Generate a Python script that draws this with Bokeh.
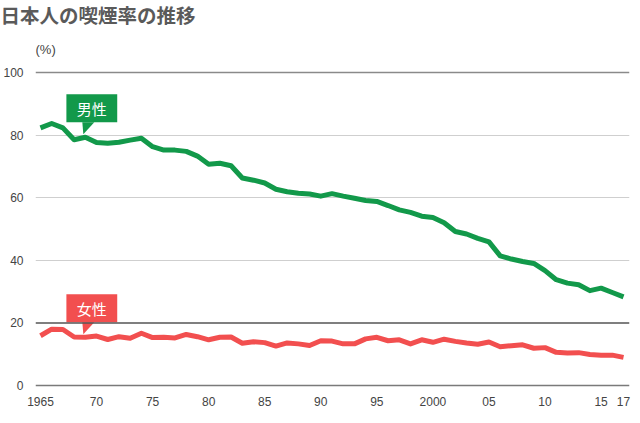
from bokeh.plotting import figure
from bokeh.models import Range1d, FixedTicker, Span, Title
from bokeh.core.properties import value
from bokeh.embed import file_html
from bokeh.resources import INLINE

years = list(range(1965, 2018))
male = [82.3, 83.7, 82.3, 78.5, 79.3, 77.6, 77.4, 77.7, 78.4, 79.0,
        76.3, 75.2, 75.2, 74.8, 73.3, 70.7, 71.0, 70.2, 66.3, 65.6,
        64.7, 62.7, 61.9, 61.4, 61.2, 60.5, 61.3, 60.5, 59.8, 59.1,
        58.8, 57.5, 56.1, 55.3, 54.1, 53.7, 52.0, 49.2, 48.4, 47.0,
        45.9, 41.4, 40.4, 39.6, 39.0, 36.7, 33.8, 32.7, 32.2, 30.3,
        31.1, 29.7, 28.3]
female = [15.9, 18.0, 17.9, 15.5, 15.4, 15.8, 14.7, 15.6, 15.1, 16.7,
          15.3, 15.4, 15.2, 16.3, 15.6, 14.6, 15.4, 15.5, 13.5, 14.0,
          13.7, 12.6, 13.6, 13.3, 12.8, 14.3, 14.2, 13.3, 13.3, 14.9,
          15.4, 14.3, 14.6, 13.3, 14.6, 13.8, 14.8, 14.1, 13.6, 13.2,
          13.9, 12.4, 12.7, 13.0, 11.9, 12.1, 10.6, 10.4, 10.5, 9.9,
          9.7, 9.7, 9.0]
x_ticks = [1965, 1970, 1975, 1980, 1985, 1990, 1995, 2000, 2005, 2010, 2015, 2017]
x_tick_labels = ["1965", "70", "75", "80", "85", "90", "95", "2000", "05", "10", "15", "17"]
y_ticks = [0, 20, 40, 60, 80, 100]
series_names = ["男性", "女性"]
title_text = "日本人の喫煙率の推移"
unit_text = "(%)"

GREEN = "#12994a"
RED = "#f24f4f"

W, H = 640, 423
BL, BR, BT, BB = 33, 11, 25, 33
frame_w = W - BL - BR
frame_h = H - BT - BB

pxx = 11.25          # px per year
pxy = 3.13           # px per percent
x_start = 1965 - 5 / pxx
x_end = x_start + frame_w / pxx
y_start = -5 / pxy
y_end = y_start + frame_h / pxy

p = figure(width=W, height=H, output_backend="svg", toolbar_location=None,
           title=None,
           x_range=Range1d(x_start, x_end), y_range=Range1d(y_start, y_end),
           min_border_left=BL, min_border_right=BR, min_border_top=BT,
           min_border_bottom=BB, outline_line_color=None)
p.background_fill_color = "white"
p.border_fill_color = "white"

# axes
p.xaxis.ticker = FixedTicker(ticks=x_ticks)
p.xaxis.major_label_overrides = {t: l for t, l in zip(x_ticks, x_tick_labels)}
p.yaxis.ticker = FixedTicker(ticks=y_ticks)
for ax in (p.xaxis, p.yaxis):
    ax.axis_line_color = None
    ax.major_tick_line_color = None
    ax.minor_tick_line_color = None
    ax.major_tick_out = 0
    ax.major_tick_in = 0
    ax.minor_tick_out = 0
    ax.minor_tick_in = 0
    ax.major_label_text_font = "Liberation Sans"
    ax.major_label_text_font_size = "12px"
    ax.major_label_text_color = "#444444"
p.xaxis.major_label_standoff = 6
p.yaxis.major_label_standoff = 12

# grid
p.xgrid.visible = False
p.ygrid.ticker = FixedTicker(ticks=[40, 60, 80])
p.ygrid.grid_line_color = "#cfcfcf"
p.ygrid.grid_line_width = 1
for yv, col, lw in [(0, "#7a7a7a", 1.5), (20, "#555555", 1.5), (100, "#8a8a8a", 1.5)]:
    p.add_layout(Span(location=yv, dimension="width", line_color=col, line_width=lw))

# lines
p.line(years, female, line_color=RED, line_width=5, line_join="round")
p.line(years, male, line_color=GREEN, line_width=5, line_join="round")

# callouts
anchor = years.index(1969)
for name, vals, col in [(series_names[0], male, GREEN), (series_names[1], female, RED)]:
    tip_x = years[anchor] - 2 / pxx
    tip_y = vals[anchor] + 3 / pxy
    bottom = tip_y + 12 / pxy
    top = bottom + 28 / pxy
    left = tip_x - 17 / pxx
    right = tip_x + 34 / pxx
    p.quad(left=[left], right=[right], bottom=[bottom], top=[top],
           fill_color=col, line_color=None)
    p.patch([tip_x - 1 / pxx, tip_x + 11 / pxx, tip_x], [bottom, bottom, tip_y],
            fill_color=col, line_color=None)
    p.text(x=[(left + right) / 2], y=[(top + bottom) / 2], text=[name],
           text_color="white", text_font=value("Noto Sans CJK JP"),
           text_font_size="15px", text_align="center", text_baseline="middle")

# unit label above the 100 line
p.text(x=[x_start], y=[100 + 23.5 / pxy], text=[unit_text],
       text_color="#444444", text_font=value("Liberation Sans"),
       text_font_size="13px", text_align="left", text_baseline="middle")

# main title
p.add_layout(Title(text=title_text, align="left", offset=-35, standoff=-6,
                   text_font="Noto Sans CJK JP", text_font_size="19.5px",
                   text_font_style="bold", text_color="#5a5a5a"), "above")

open("out.html", "w").write(file_html(p, INLINE))
